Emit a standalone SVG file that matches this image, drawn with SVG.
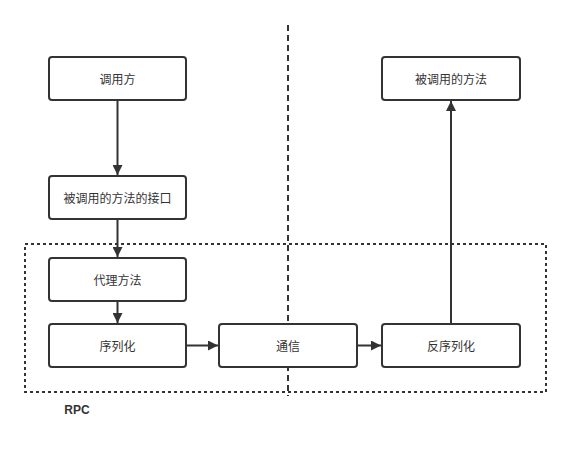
<svg xmlns="http://www.w3.org/2000/svg" width="571" height="450" viewBox="0 0 571 450">
<style>
.box{fill:#fff;stroke:#333;stroke-width:2}
.lbl{font-family:"Noto Sans CJK SC","Liberation Sans",sans-serif;font-size:12px;fill:#333;text-anchor:middle;dominant-baseline:central}
.conn{stroke:#333;stroke-width:2;fill:none}
</style>
<defs>
<marker id="ah" viewBox="0 0 10 10" refX="10" refY="5" markerWidth="5" markerHeight="5" orient="auto" markerUnits="strokeWidth">
<path d="M0,0 L10,5 L0,10 z" fill="#333"/>
</marker>
</defs>
<rect width="571" height="450" fill="#fff"/>
<g id="rpc-group">
<rect x="25" y="244" width="521" height="148" fill="none" stroke="#333" stroke-width="2" stroke-dasharray="3 3"/>
<text x="77" y="410" font-family="'Liberation Sans',sans-serif" font-size="12" font-weight="bold" fill="#333" text-anchor="middle" dominant-baseline="central">RPC</text>
</g>
<g id="divider">
<line x1="288" y1="25" x2="288" y2="396" stroke="#333" stroke-width="2" stroke-dasharray="6 4"/>
</g>
<g id="connectors">
<line class="conn" x1="117.5" y1="100" x2="117.5" y2="175" marker-end="url(#ah)"/>
<line class="conn" x1="117.5" y1="219" x2="117.5" y2="257" marker-end="url(#ah)"/>
<line class="conn" x1="117.5" y1="301" x2="117.5" y2="323" marker-end="url(#ah)"/>
<line class="conn" x1="186" y1="345.5" x2="218" y2="345.5" marker-end="url(#ah)"/>
<line class="conn" x1="357" y1="345.5" x2="381" y2="345.5" marker-end="url(#ah)"/>
<line class="conn" x1="451" y1="324" x2="451" y2="101" marker-end="url(#ah)"/>
</g>
<g id="caller">
<rect class="box" x="49" y="57" width="137" height="43" rx="3"/>
<text class="lbl" x="117.5" y="78.5">调用方</text>
</g>
<g id="interface">
<rect class="box" x="49" y="176" width="137" height="43" rx="3"/>
<text class="lbl" x="117.5" y="197.5">被调用的方法的接口</text>
</g>
<g id="proxy">
<rect class="box" x="49" y="258" width="137" height="43" rx="3"/>
<text class="lbl" x="117.5" y="279.5">代理方法</text>
</g>
<g id="serialize">
<rect class="box" x="49" y="324" width="137" height="43" rx="3"/>
<text class="lbl" x="117.5" y="345.5">序列化</text>
</g>
<g id="comm">
<rect class="box" x="219" y="324" width="138" height="43" rx="3"/>
<text class="lbl" x="288" y="345.5">通信</text>
</g>
<g id="deserialize">
<rect class="box" x="382" y="324" width="138" height="43" rx="3"/>
<text class="lbl" x="451" y="345.5">反序列化</text>
</g>
<g id="callee">
<rect class="box" x="382" y="57" width="138" height="43" rx="3"/>
<text class="lbl" x="451" y="78.5">被调用的方法</text>
</g>
</svg>
